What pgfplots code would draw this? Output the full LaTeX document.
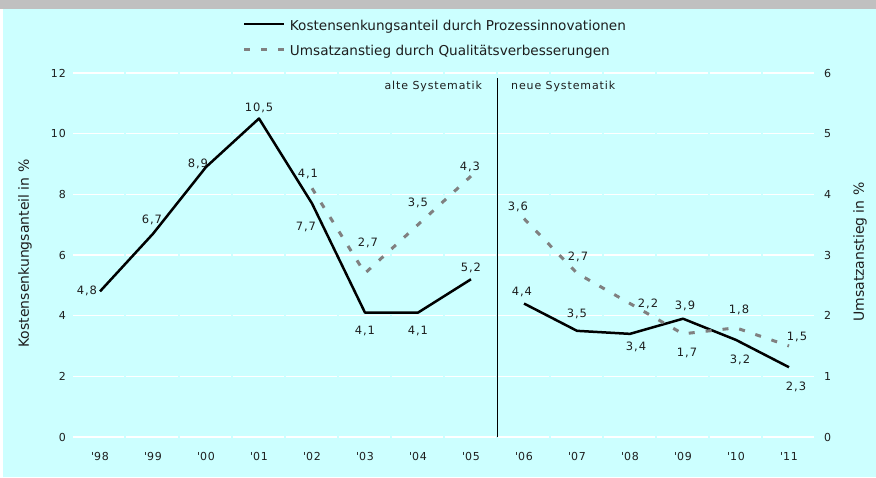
\documentclass[border=0pt]{standalone}
\usepackage{fontspec}
\setmainfont{DejaVu Sans}
\newfontfamily\lab[LetterSpace=8]{DejaVu Sans}
\usepackage{pgfplots}
\pgfplotsset{compat=1.18}
\usepackage{pgfplotstable}
\definecolor{bgcyan}{RGB}{204,255,255}
\definecolor{bargray}{RGB}{192,192,192}
\definecolor{linegray}{RGB}{128,128,128}
\definecolor{txt}{RGB}{30,30,30}

\pgfplotstableread{
x y dx dy
0 4.8 -13 1
1 6.7 -1 15
2 8.9 -8 4
3 10.5 0 11
4 7.7 -6 -23
5 4.1 0 -18
6 4.1 0 -18
7 5.2 0 12
7.5 nan 0 0
8 4.4 -2 12
9 3.5 0 18
10 3.4 6 -12
11 3.9 2 13
12 3.2 4 -19
13 2.3 7 -19
}\blacktab

\pgfplotstableread{
x y dx dy
4 4.1 -4 15
5 2.7 3 31
6 3.5 0 22
7 4.3 -1 10
7.5 nan 0 0
8 3.6 -6 12
9 2.7 1 17
10 2.2 18 0
11 1.7 4 -18
12 1.8 3 19
13 1.5 8 10
}\graytab

\pgfplotsset{
  labelstyle/.style={
    nodes near coords={\pgfmathprintnumber[fixed, fixed zerofill, precision=1, use comma, assume math mode=true]{\pgfplotspointmeta}},
    nodes near coords align=center,
    visualization depends on={\thisrow{dx}\as\labdx},
    visualization depends on={\thisrow{dy}\as\labdy},
    every node near coord/.append style={font=\lab\fontsize{11.5}{13}\selectfont, anchor=center, inner sep=0pt, text depth=0pt, text=txt, xshift=\labdx pt, yshift=\labdy pt},
  },
  commonaxis/.style={
    at={(73.5pt,40pt)}, anchor=south west, scale only axis,
    width=742pt, height=364pt,
    xmin=-0.5, xmax=13.5,
    axis line style={draw=none},
    major tick length=0pt,
    tick style={draw=none},
    /pgf/number format/assume math mode=true,
    tick label style={font=\lab\fontsize{11}{13}\selectfont, text=txt},
    unbounded coords=jump,
  }
}

\begin{document}
\begin{tikzpicture}[x=1pt,y=1pt]
\fill[bgcyan] (3,0) rectangle (876,467.5);
\fill[bargray] (0,467.5) rectangle (876,477);
\useasboundingbox (0,0) rectangle (876,477);

\begin{axis}[
  commonaxis,
  ymin=0, ymax=12,
  xtick={0,...,13},
  xticklabels={\textquotesingle98,\textquotesingle99,\textquotesingle00,\textquotesingle01,\textquotesingle02,\textquotesingle03,\textquotesingle04,\textquotesingle05,\textquotesingle06,\textquotesingle07,\textquotesingle08,\textquotesingle09,\textquotesingle10,\textquotesingle11},
  ytick={0,2,...,12},
  ymajorgrids,
  grid style={white, line width=1.2pt, dash pattern=on 51pt off 2pt},
  yticklabel style={anchor=east, inner sep=0pt, xshift=-7.5pt},
  xticklabel style={anchor=base, inner sep=0pt, yshift=-23pt},
  ylabel={Kostensenkungsanteil in \%},
  every axis y label/.style={at={(axis description cs:-0.0654,0.504)}, rotate=90, anchor=center, font=\fontsize{14}{16}\selectfont, text=txt},
  legend cell align=left,
  legend image code/.code={\draw[#1] (0pt,3.5pt) -- (40pt,3.5pt);},
  legend style={at={(axis description cs:0.2284,1.1415)}, anchor=north west,
    draw=none, fill=none, inner sep=0pt, outer sep=0pt, row sep=12.5pt,
    font=\fontsize{13.6}{15}\selectfont, text=txt,
    nodes={inner sep=0pt, text height=9.5pt, text depth=3pt},
    /tikz/every odd column/.append style={column sep=4pt}},
]
\addplot[black, line width=2.5pt, line join=round, labelstyle] table[x=x, y=y] {\blacktab};
\addlegendentry{Kostensenkungsanteil durch Prozessinnovationen}
\addlegendimage{linegray, line width=3pt, dash pattern=on 6pt off 11pt}
\addlegendentry{Umsatzanstieg durch Qualitätsverbesserungen}
\addplot[black, line width=0.8pt, forget plot] coordinates {(7.5,0) (7.5,11.85)};
\node[anchor=east, inner sep=0pt, font=\lab\fontsize{11}{12}\selectfont, text=txt] at (axis cs:7.21,11.57) {alte Systematik};
\node[anchor=west, inner sep=0pt, font=\lab\fontsize{11}{12}\selectfont, text=txt] at (axis cs:7.755,11.57) {neue Systematik};
\end{axis}

\begin{axis}[
  commonaxis,
  ymin=0, ymax=6,
  xtick=\empty,
  ytick={0,1,...,6},
  yticklabel pos=right,
  yticklabel style={anchor=west, inner sep=0pt, xshift=8.5pt},
  ylabel={Umsatzanstieg in \%},
  every axis y label/.style={at={(axis description cs:1.06,0.508)}, rotate=90, anchor=center, font=\fontsize{14}{16}\selectfont, text=txt},
]
\addplot[linegray, line width=3pt, dash pattern=on 6pt off 11pt, labelstyle] table[x=x, y=y] {\graytab};
\end{axis}
\end{tikzpicture}
\end{document}
